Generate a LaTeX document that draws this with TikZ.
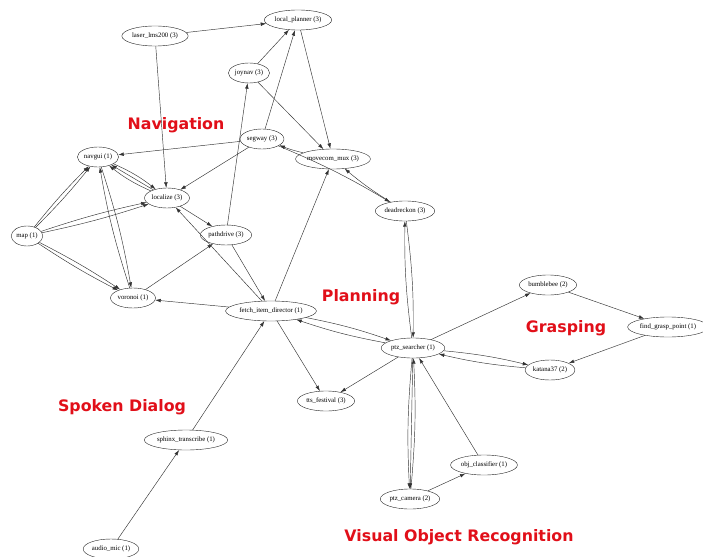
\documentclass[tikz,border=0pt]{standalone}
\usepackage{fontspec}
\usetikzlibrary{shapes.geometric,arrows.meta}
\newfontfamily\procfont{Liberation Serif}
\newfontfamily\groupfont{DejaVu Sans}
\definecolor{grpred}{RGB}{225,15,25}

\begin{document}
\begin{tikzpicture}
[%%%%%%%%%%%%%%%%%%%%%%%%%%%%%%
x=1pt,y=-1pt,
proc/.style={ellipse,draw=black!85,thin,minimum height=20pt,inner xsep=0.5pt,inner ysep=0pt,
  font={\procfont\fontsize{6.8}{7}\selectfont}},
group/.style={text=grpred,font={\groupfont\bfseries\fontsize{15.8}{18}\selectfont}},
link/.style={draw=black!80,line width=0.45pt,-{Latex[length=5.5pt,width=3.6pt]}},
]%%%%%%%%%%%%%%%%%%%%%%%%%%%%%%
\useasboundingbox (0,0) rectangle (703,556);

\node[proc] (lplan) at (298,20) {local\_planner (3)};
\node[proc] (laser) at (155,36) {laser\_lms200 (3)};
\node[proc] (joynav) at (249,73) {joynav (3)};
\node[proc] (segway) at (262,139) {segway (3)};
\node[proc] (mux) at (333,159) {movecom\_mux (3)};
\node[proc] (navgui) at (98,157) {navgui (1)};
\node[proc] (localize) at (167,198) {localize (3)};
\node[proc] (map) at (27,236) {map (1)};
\node[proc] (pathdrive) at (226,235) {pathdrive (3)};
\node[proc] (deadreck) at (405,211) {deadreckon (3)};
\node[proc] (voronoi) at (133,298) {voronoi (1)};
\node[proc] (fetch) at (271,311) {fetch\_item\_director (1)};
\node[proc] (bumble) at (548,285) {bumblebee (2)};
\node[proc] (grasp) at (668,327) {find\_grasp\_point (1)};
\node[proc] (ptzs) at (413,348) {ptz\_searcher (1)};
\node[proc] (katana) at (550,370) {katana37 (2)};
\node[proc] (tts) at (326,401) {tts\_festival (3)};
\node[proc] (sphinx) at (186,440) {sphinx\_transcribe (1)};
\node[proc] (objcls) at (484,465) {obj\_classifier (1)};
\node[proc] (ptzcam) at (410,499) {ptz\_camera (2)};
\node[proc] (audio) at (111,549) {audio\_mic (1)};

% group labels
\node[group] (navlbl) at (176,125) {Navigation};
\node[group] (planlbl) at (361,297) {Planning};
\node[group] (grasplbl) at (566,328) {Grasping};
\node[group] (speaklbl) at (122,407) {Spoken Dialog};
\node[group] (visionlbl) at (459,537) {Visual Object Recognition};

% single connections
\foreach \a/\b in {laser/lplan,laser/localize,joynav/lplan,joynav/mux,segway/lplan,
  lplan/mux,pathdrive/joynav,segway/navgui,segway/localize,fetch/mux,
  voronoi/pathdrive,fetch/voronoi,localize/pathdrive,fetch/localize,pathdrive/fetch,
  fetch/tts,ptzs/tts,sphinx/fetch,audio/sphinx,ptzs/bumble,bumble/grasp,
  grasp/katana,ptzcam/objcls,objcls/ptzs,localize/navgui,ptzs/ptzcam}
  \draw[link] (\a) -- (\b);

% connections both ways
\foreach \a/\b in {mux/segway,deadreck/ptzs,ptzs/deadreck,navgui/voronoi,voronoi/navgui,
  fetch/ptzs,ptzs/fetch,katana/ptzs,ptzs/katana,segway/deadreck,deadreck/mux}
  \draw[link] (\a) to[bend left=4] (\b);
\draw[link] (localize) to[bend left=7] (navgui);
\draw[link] (navgui) to[bend left=7] (localize);
\draw[link] (ptzs) to[bend right=4] (ptzcam);
\draw[link] (ptzcam) to[bend right=4] (ptzs);

% doubled connections
\foreach \a/\b in {map/navgui,map/localize,map/voronoi}{
  \draw[link] (\a) to[bend right=3] (\b);
  \draw[link] (\a) to[bend left=3] (\b);
}
\end{tikzpicture}
\end{document}
